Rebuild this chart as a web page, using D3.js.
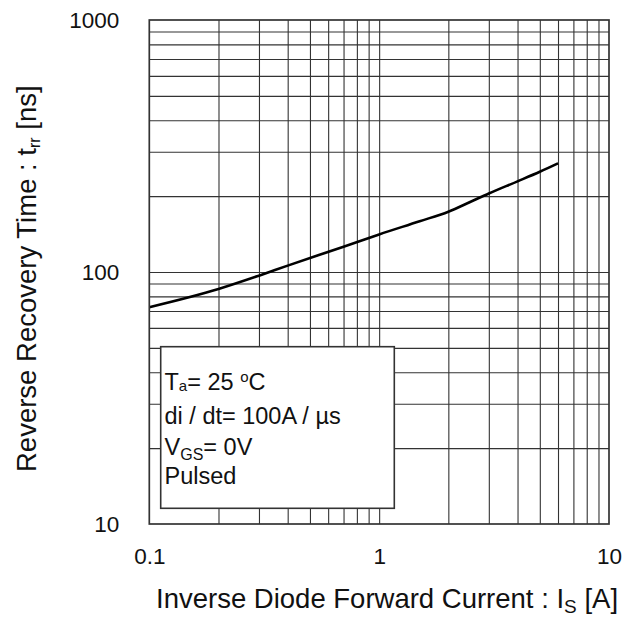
<!DOCTYPE html>
<html>
<head>
<meta charset="utf-8">
<script src="https://cdn.jsdelivr.net/npm/d3@7"></script>
<style>
  html, body { margin: 0; padding: 0; background: #fff; }
  svg { display: block; }
  text { font-family: "Liberation Sans", Arial, sans-serif; fill: #111; }
</style>
</head>
<body>
<svg id="chart" width="636" height="620"></svg>
<script>
// ---- data ----
const currentA = [0.1, 0.2, 0.3, 0.4, 0.7, 1, 1.5, 2, 2.5, 3, 4, 5, 6];
const trrNs    = [72.5, 85.6, 96.7, 106, 126, 141, 159, 173.5, 190, 205, 229, 250, 270];
const xTickLabels = [0.1, 1, 10];
const yTickLabels = [10, 100, 1000];
const xGrid = [0.2,0.3,0.4,0.5,0.6,0.7,0.8,0.9,1,2,3,4,5,6,7,8,9];
const yGrid = [20,30,40,50,60,70,80,90,100,200,300,400,500,600,700,800,900];
const legendLines = ["Ta= 25 °C", "di / dt= 100A / µs", "VGS= 0V", "Pulsed"];

const svg = d3.select("#chart");
const L = 149.3, R = 609, T = 20, B = 524;

const x = d3.scaleLog().domain([0.1, 10]).range([L, R]);
const y = d3.scaleLog().domain([10, 1000]).range([B, T]);

// grid
const gx = svg.append("g").attr("transform", `translate(0,${B})`)
  .call(d3.axisBottom(x).tickValues(xGrid).tickSize(-(B - T)).tickFormat(""));
gx.select(".domain").remove();
gx.selectAll("line").attr("stroke", "#333").attr("stroke-width", 1.1);

const gy = svg.append("g").attr("transform", `translate(${L},0)`)
  .call(d3.axisLeft(y).tickValues(yGrid).tickSize(-(R - L)).tickFormat(""));
gy.select(".domain").remove();
gy.selectAll("line").attr("stroke", "#333").attr("stroke-width", 1.1);

// legend box (covers grid)
const lg = svg.append("g");
lg.append("rect")
  .attr("x", 160.7).attr("y", 346.7).attr("width", 233.6).attr("height", 161.6)
  .attr("fill", "#fff").attr("stroke", "#333").attr("stroke-width", 1.6);

// curve
const pts = currentA.map((c, i) => [c, trrNs[i]]);
svg.append("path")
  .datum(pts)
  .attr("fill", "none")
  .attr("stroke", "#000")
  .attr("stroke-width", 2.6)
  .attr("stroke-linejoin", "round")
  .attr("d", d3.line().x(d => x(d[0])).y(d => y(d[1])).curve(d3.curveMonotoneX));

// frame
svg.append("rect")
  .attr("x", L).attr("y", T).attr("width", R - L).attr("height", B - T)
  .attr("fill", "none").attr("stroke", "#333").attr("stroke-width", 1.7);

// tick labels
const ax = svg.append("g").attr("transform", `translate(0,${B})`)
  .call(d3.axisBottom(x).tickValues(xTickLabels).tickSize(0).tickPadding(24)
    .tickFormat(d => d === 0.1 ? "0.1" : String(d)));
ax.select(".domain").remove();
ax.selectAll("text").attr("font-size", 22.5).attr("fill", "#111")
  .attr("font-family", "'Liberation Sans', Arial, sans-serif");

const ay = svg.append("g").attr("transform", `translate(${L},0)`)
  .call(d3.axisLeft(y).tickValues(yTickLabels).tickSize(0).tickPadding(30)
    .tickFormat(d3.format("d")));
ay.select(".domain").remove();
ay.selectAll("text").attr("font-size", 22.5).attr("fill", "#111")
  .attr("font-family", "'Liberation Sans', Arial, sans-serif");

// legend text
const lx = 164.5, lfs = 23.5;
const t1 = lg.append("text").attr("x", lx).attr("y", 389.5).attr("font-size", lfs);
t1.append("tspan").text("T");
t1.append("tspan").attr("font-size", 15).attr("dy", 1).text("a");
t1.append("tspan").attr("dy", -1).text("= 25 ");
t1.append("tspan").attr("font-size", 15).attr("dy", -8).text("o");
t1.append("tspan").attr("dy", 8).text("C");

lg.append("text").attr("x", lx).attr("y", 423.5).attr("font-size", lfs).text(legendLines[1]);

const t3 = lg.append("text").attr("x", lx).attr("y", 454.5).attr("font-size", lfs);
t3.append("tspan").text("V");
t3.append("tspan").attr("font-size", 16).attr("dy", 5).text("GS");
t3.append("tspan").attr("dy", -5).text("= 0V");

lg.append("text").attr("x", lx).attr("y", 484).attr("font-size", lfs).text(legendLines[3]);

// axis titles
const xt = svg.append("text").attr("x", 156).attr("y", 608).attr("font-size", 27.5);
xt.append("tspan").text("Inverse Diode Forward Current : I");
xt.append("tspan").attr("font-size", 19).attr("dy", 5).text("S");
xt.append("tspan").attr("dy", -5).text(" [A]");

const yt = svg.append("text").attr("transform", "translate(36,472) rotate(-90)").attr("font-size", 27.5);
yt.append("tspan").text("Reverse Recovery Time : t");
yt.append("tspan").attr("font-size", 16).attr("dy", 4).text("rr");
yt.append("tspan").attr("dy", -4).text(" [ns]");
</script>
</body>
</html>
